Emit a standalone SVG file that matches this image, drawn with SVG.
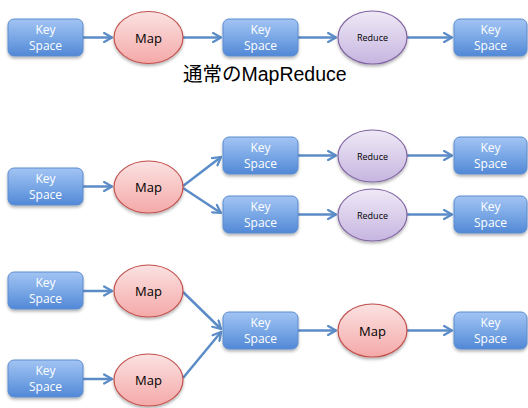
<svg xmlns="http://www.w3.org/2000/svg" width="528" height="408" viewBox="0 0 528 408">
  <defs>
    <linearGradient id="gKey" x1="0" y1="0" x2="0" y2="1">
      <stop offset="0" stop-color="#a3c4f3"/>
      <stop offset="0.5" stop-color="#7aa8e6"/>
      <stop offset="1" stop-color="#5288d6"/>
    </linearGradient>
    <linearGradient id="gMap" x1="0" y1="0" x2="0" y2="1">
      <stop offset="0" stop-color="#fbe2e2"/>
      <stop offset="1" stop-color="#f4a9a8"/>
    </linearGradient>
    <linearGradient id="gRed" x1="0" y1="0" x2="0" y2="1">
      <stop offset="0" stop-color="#efe9f6"/>
      <stop offset="1" stop-color="#c6b5e0"/>
    </linearGradient>
    <filter id="shadow" x="-20%" y="-20%" width="140%" height="160%">
      <feDropShadow dx="0" dy="2" stdDeviation="1.5" flood-color="#000" flood-opacity="0.3"/>
    </filter>
    <marker id="arrow" viewBox="0 0 10 10" refX="8" refY="5" markerWidth="4.5" markerHeight="4.5" orient="auto" markerUnits="strokeWidth">
      <path d="M1,1 L8,5 L1,9" fill="none" stroke="#5b8cc7" stroke-width="2" stroke-linecap="round" stroke-linejoin="round"/>
    </marker>
  </defs>
  <style>
    .key rect { fill: url(#gKey); stroke: #5a8ccf; stroke-width: 1; filter: url(#shadow); }
    .key text { fill: #ffffff; font-family: "Open Sans", "Liberation Sans", sans-serif; font-size: 12px; text-anchor: middle; }
    .map ellipse { fill: url(#gMap); stroke: #c0504d; stroke-width: 1.2; filter: url(#shadow); }
    .map text { fill: #000; font-family: "Open Sans", "Liberation Sans", sans-serif; font-size: 13px; text-anchor: middle; dominant-baseline: central; }
    .red ellipse { fill: url(#gRed); stroke: #8064a2; stroke-width: 1.2; filter: url(#shadow); }
    .red text { fill: #000; font-family: "Open Sans", "Liberation Sans", sans-serif; font-size: 9px; text-anchor: middle; dominant-baseline: central; }
    .edges line { stroke: #5b8cc7; stroke-width: 2.5; fill: none; marker-end: url(#arrow); }
    .title { font-family: "Liberation Sans", "Noto Sans CJK JP", sans-serif; font-size: 19.5px; fill: #000; }
  </style>
  <rect width="528" height="408" fill="#ffffff"/>

  <!-- connectors -->
  <g id="edges" class="edges">
    <!-- row 1 -->
    <line x1="83" y1="37.5" x2="112" y2="37.5"/>
    <line x1="183" y1="37.5" x2="221" y2="37.5"/>
    <line x1="298" y1="37.5" x2="336" y2="37.5"/>
    <line x1="407" y1="37.5" x2="452" y2="37.5"/>
    <!-- row 2 -->
    <line x1="83" y1="186.5" x2="112" y2="186.5"/>
    <line x1="183" y1="186" x2="221" y2="157"/>
    <line x1="183" y1="188" x2="221" y2="213"/>
    <line x1="298" y1="155.5" x2="336" y2="155.5"/>
    <line x1="407" y1="155.5" x2="452" y2="155.5"/>
    <line x1="298" y1="214.5" x2="336" y2="214.5"/>
    <line x1="407" y1="214.5" x2="452" y2="214.5"/>
    <!-- row 3 -->
    <line x1="83" y1="291" x2="112" y2="291"/>
    <line x1="83" y1="379" x2="112" y2="379"/>
    <line x1="183" y1="292" x2="221" y2="329"/>
    <line x1="183" y1="378" x2="221" y2="332"/>
    <line x1="298" y1="330.5" x2="336" y2="330.5"/>
    <line x1="407" y1="330.5" x2="452" y2="330.5"/>
  </g>

  <!-- row 1 -->
  <g id="ks1" class="key"><rect x="8" y="19" width="75" height="37" rx="6"/><text x="45.5" y="34">Key</text><text x="45.5" y="50">Space</text></g>
  <g id="map1" class="map"><ellipse cx="148.5" cy="37.5" rx="34.5" ry="26"/><text x="148.5" y="37.5">Map</text></g>
  <g id="ks2" class="key"><rect x="223" y="19" width="75" height="37" rx="6"/><text x="260.5" y="34">Key</text><text x="260.5" y="50">Space</text></g>
  <g id="red1" class="red"><ellipse cx="372.5" cy="37.5" rx="34.5" ry="26.5"/><text x="372.5" y="37.5">Reduce</text></g>
  <g id="ks3" class="key"><rect x="454" y="19" width="73" height="37" rx="6"/><text x="490.5" y="34">Key</text><text x="490.5" y="50">Space</text></g>
  <text class="title" x="183" y="81">通常のMapReduce</text>

  <!-- row 2 -->
  <g id="ks4" class="key"><rect x="8" y="168" width="75" height="37" rx="6"/><text x="45.5" y="183">Key</text><text x="45.5" y="199">Space</text></g>
  <g id="map2" class="map"><ellipse cx="148.5" cy="187" rx="34.5" ry="26"/><text x="148.5" y="187">Map</text></g>
  <g id="ks5" class="key"><rect x="223" y="137" width="75" height="37" rx="6"/><text x="260.5" y="152">Key</text><text x="260.5" y="168">Space</text></g>
  <g id="ks6" class="key"><rect x="223" y="196" width="75" height="37" rx="6"/><text x="260.5" y="211">Key</text><text x="260.5" y="227">Space</text></g>
  <g id="red2" class="red"><ellipse cx="372.5" cy="156" rx="34.5" ry="26"/><text x="372.5" y="156">Reduce</text></g>
  <g id="red3" class="red"><ellipse cx="372.5" cy="215" rx="34.5" ry="26"/><text x="372.5" y="215">Reduce</text></g>
  <g id="ks7" class="key"><rect x="454" y="137" width="73" height="37" rx="6"/><text x="490.5" y="152">Key</text><text x="490.5" y="168">Space</text></g>
  <g id="ks8" class="key"><rect x="454" y="196" width="73" height="37" rx="6"/><text x="490.5" y="211">Key</text><text x="490.5" y="227">Space</text></g>

  <!-- row 3 -->
  <g id="ks9" class="key"><rect x="8" y="272" width="75" height="37" rx="6"/><text x="45.5" y="287">Key</text><text x="45.5" y="303">Space</text></g>
  <g id="ks10" class="key"><rect x="8" y="360" width="75" height="37" rx="6"/><text x="45.5" y="375">Key</text><text x="45.5" y="391">Space</text></g>
  <g id="map3" class="map"><ellipse cx="148.5" cy="291" rx="34.5" ry="26"/><text x="148.5" y="291">Map</text></g>
  <g id="map4" class="map"><ellipse cx="148.5" cy="380" rx="34.5" ry="26"/><text x="148.5" y="380">Map</text></g>
  <g id="ks11" class="key"><rect x="223" y="312" width="75" height="37" rx="6"/><text x="260.5" y="327">Key</text><text x="260.5" y="343">Space</text></g>
  <g id="map5" class="map"><ellipse cx="372.5" cy="330.5" rx="34.5" ry="26.5"/><text x="372.5" y="330.5">Map</text></g>
  <g id="ks12" class="key"><rect x="454" y="312" width="73" height="37" rx="6"/><text x="490.5" y="327">Key</text><text x="490.5" y="343">Space</text></g>
</svg>
